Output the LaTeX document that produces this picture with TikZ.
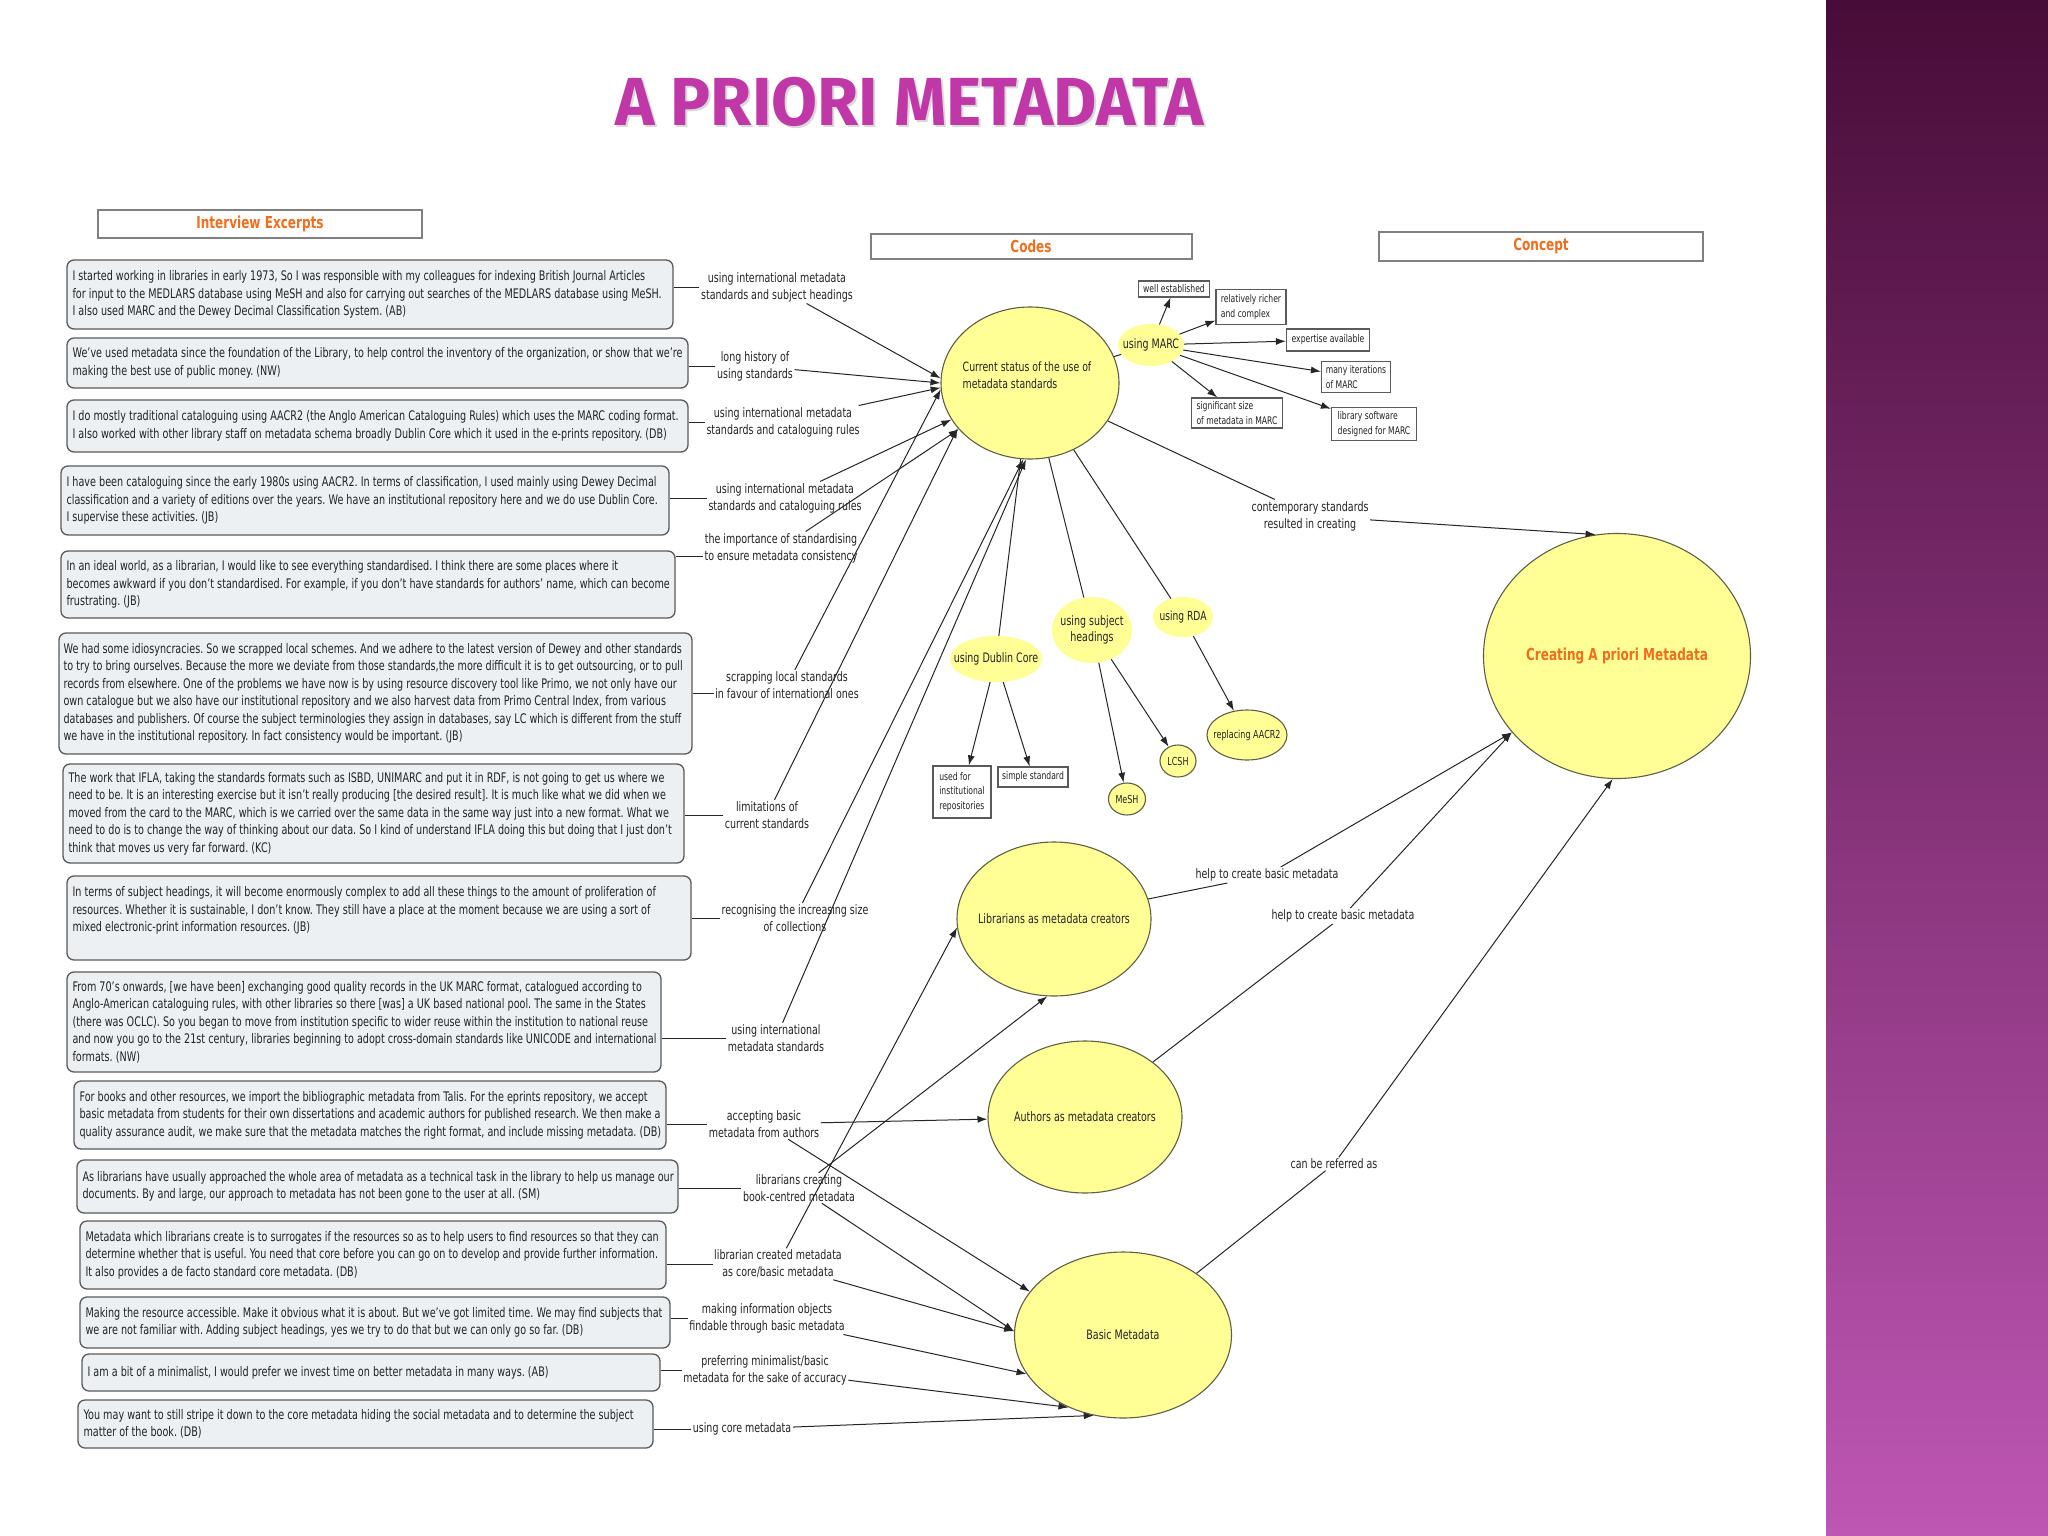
\documentclass[tikz,border=0pt]{standalone}
\usepackage{fontspec}
\setmainfont{DejaVu Sans}[FakeStretch=0.73]
\newfontfamily\titlefont{Fira Sans}[FakeStretch=0.98]
\usetikzlibrary{shapes.geometric,arrows.meta}
\definecolor{boxfill}{RGB}{236,240,243}
\definecolor{boxline}{RGB}{90,90,90}
\definecolor{ylw}{RGB}{255,255,150}
\definecolor{ylwline}{RGB}{95,95,70}
\definecolor{orng}{RGB}{240,110,30}
\definecolor{ttl}{RGB}{192,56,168}
\definecolor{plumtop}{RGB}{72,12,56}
\definecolor{plummid}{RGB}{140,48,128}
\definecolor{plumbot}{RGB}{190,86,180}
\definecolor{txt}{RGB}{35,35,35}
\tikzset{
  ebox/.style={draw=boxline, fill=boxfill, rounded corners=7pt, line width=1.3pt, inner sep=0pt},
  etext/.style={anchor=west, align=left, inner sep=0pt, text=txt, font=\fontsize{13.2}{17.5}\selectfont},
  lbl/.style={align=center, inner sep=1.5pt, text=txt, font=\fontsize{13}{17}\selectfont},
  hdr/.style={draw=gray, line width=2pt, fill=white, text=orng, font=\bfseries\fontsize{16.5}{18}\selectfont, inner sep=0pt},
  bigc/.style={ellipse, draw=ylwline, fill=ylw, line width=1.1pt, inner sep=0pt},
  smc/.style={ellipse, fill=ylw, inner sep=0pt},
  smcb/.style={ellipse, draw=ylwline, fill=ylw, line width=1.1pt, inner sep=0pt},
  ctext/.style={align=center, inner sep=0pt, text=txt, font=\fontsize{13}{16}\selectfont},
  mbox/.style={draw=boxline, fill=white, line width=1.2pt, align=left, inner sep=0pt, text=txt, font=\fontsize{10.5}{14.5}\selectfont},
  conn/.style={line width=1pt, draw=black!85},
  arr/.style={conn, -{Latex[length=10pt,width=7pt]}},
}
\begin{document}
\frenchspacing
\begin{tikzpicture}[x=1pt,y=-1pt]
\useasboundingbox (0,0) rectangle (2048,1536);
\fill[white] (0,0) rectangle (2048,1536);
\shade[top color=plumtop, middle color=plummid, bottom color=plumbot] (1826,0) rectangle (2048,1536);

% title
\node[text=black!15, font=\titlefont\bfseries\fontsize{68}{70}\selectfont] (titles) at (912,104) {A PRIORI METADATA};
\node[text=ttl, font=\titlefont\bfseries\fontsize{68}{70}\selectfont] (title) at (910,102) {A PRIORI METADATA};

% headers
\node[hdr, minimum width=324, minimum height=28] (hint) at (260,224) {Interview Excerpts};
\node[hdr, minimum width=321, minimum height=25] (hcodes) at (1031,246) {Codes};
\node[hdr, minimum width=324, minimum height=29] (hcon) at (1541,246) {Concept};

% interview excerpt boxes
\node[ebox, minimum width=606, minimum height=69] (b1) at (370,294.5) {};
\node[etext] (t1) at ([xshift=6pt]b1.west) {I started working in libraries in early 1973, So I was responsible with my colleagues for indexing British Journal Articles\\for input to the MEDLARS database using MeSH and also for carrying out searches of the MEDLARS database using MeSH.\\I also used MARC and the Dewey Decimal Classification System. (AB)};

\node[ebox, minimum width=621, minimum height=50] (b2) at (377.5,363) {};
\node[etext] (t2) at ([xshift=6pt]b2.west) {We've used metadata since the foundation of the Library, to help control the inventory of the organization, or show that we're\\making the best use of public money. (NW)};

\node[ebox, minimum width=621, minimum height=52] (b3) at (377.5,426) {};
\node[etext] (t3) at ([xshift=6pt]b3.west) {I do mostly traditional cataloguing using AACR2 (the Anglo American Cataloguing Rules) which uses the MARC coding format.\\I also worked with other library staff on metadata schema broadly Dublin Core which it used in the e-prints repository. (DB)};

\node[ebox, minimum width=608, minimum height=69] (b4) at (365,500.5) {};
\node[etext] (t4) at ([xshift=6pt]b4.west) {I have been cataloguing since the early 1980s using AACR2. In terms of classification, I used mainly using Dewey Decimal\\classification and a variety of editions over the years. We have an institutional repository here and we do use Dublin Core.\\I supervise these activities. (JB)};

\node[ebox, minimum width=614, minimum height=67] (b5) at (368,584.5) {};
\node[etext] (t5) at ([xshift=6pt]b5.west) {In an ideal world, as a librarian, I would like to see everything standardised. I think there are some places where it\\becomes awkward if you don't standardised. For example, if you don't have standards for authors' name, which can become\\frustrating. (JB)};

\node[ebox, minimum width=633, minimum height=121] (b6) at (375.5,693.5) {};
\node[etext] (t6) at ([xshift=5pt]b6.west) {We had some idiosyncracies. So we scrapped local schemes. And we adhere to the latest version of Dewey and other standards\\to try to bring ourselves. Because the more we deviate from those standards,the more difficult it is to get outsourcing, or to pull\\records from elsewhere. One of the problems we have now is by using resource discovery tool like Primo, we not only have our\\own catalogue but we also have our institutional repository and we also harvest data from Primo Central Index, from various\\databases and publishers. Of course the subject terminologies they assign in databases, say LC which is different from the stuff\\we have in the institutional repository. In fact consistency would be important. (JB)};

\node[ebox, minimum width=621, minimum height=99] (b7) at (373.5,813.5) {};
\node[etext] (t7) at ([xshift=6pt]b7.west) {The work that IFLA, taking the standards formats such as ISBD, UNIMARC and put it in RDF, is not going to get us where we\\need to be. It is an interesting exercise but it isn't really producing [the desired result]. It is much like what we did when we\\moved from the card to the MARC, which is we carried over the same data in the same way just into a new format. What we\\need to do is to change the way of thinking about our data. So I kind of understand IFLA doing this but doing that I just don't\\think that moves us very far forward. (KC)};

\node[ebox, minimum width=624, minimum height=84] (b8) at (379,918) {};
\node[etext] (t8) at ([xshift=6pt]b8.west) {In terms of subject headings, it will become enormously complex to add all these things to the amount of proliferation of\\resources. Whether it is sustainable, I don't know. They still have a place at the moment because we are using a sort of\\mixed electronic-print information resources. (JB)\\\mbox{}};

\node[ebox, minimum width=594, minimum height=100] (b9) at (364,1022) {};
\node[etext] (t9) at ([xshift=6pt]b9.west) {From 70's onwards, [we have been] exchanging good quality records in the UK MARC format, catalogued according to\\Anglo-American cataloguing rules, with other libraries so there [was] a UK based national pool. The same in the States\\(there was OCLC). So you began to move from institution specific to wider reuse within the institution to national reuse\\and now you go to the 21st century, libraries beginning to adopt cross-domain standards like UNICODE and international\\formats. (NW)};

\node[ebox, minimum width=592, minimum height=68] (b10) at (370,1115) {};
\node[etext] (t10) at ([xshift=6pt]b10.west) {For books and other resources, we import the bibliographic metadata from Talis. For the eprints repository, we accept\\basic metadata from students for their own dissertations and academic authors for published research. We then make a\\quality assurance audit, we make sure that the metadata matches the right format, and include missing metadata. (DB)};

\node[ebox, minimum width=601, minimum height=53] (b11) at (377.5,1186.5) {};
\node[etext] (t11) at ([xshift=6pt]b11.west) {As librarians have usually approached the whole area of metadata as a technical task in the library to help us manage our\\documents. By and large, our approach to metadata has not been gone to the user at all. (SM)};

\node[ebox, minimum width=586, minimum height=68] (b12) at (373,1255) {};
\node[etext] (t12) at ([xshift=6pt]b12.west) {Metadata which librarians create is to surrogates if the resources so as to help users to find resources so that they can\\determine whether that is useful. You need that core before you can go on to develop and provide further information.\\It also provides a de facto standard core metadata. (DB)};

\node[ebox, minimum width=590, minimum height=51] (b13) at (375,1322.5) {};
\node[etext] (t13) at ([xshift=6pt]b13.west) {Making the resource accessible. Make it obvious what it is about. But we've got limited time. We may find subjects that\\we are not familiar with. Adding subject headings, yes we try to do that but we can only go so far. (DB)};

\node[ebox, minimum width=578, minimum height=37] (b14) at (371,1372.5) {};
\node[etext] (t14) at ([xshift=6pt]b14.west) {I am a bit of a minimalist, I would prefer we invest time on better metadata in many ways. (AB)};

\node[ebox, minimum width=575, minimum height=48] (b15) at (365.5,1424) {};
\node[etext] (t15) at ([xshift=6pt]b15.west) {You may want to still stripe it down to the core metadata hiding the social metadata and to determine the subject\\matter of the book. (DB)};

% code labels
\node[lbl] (L1) at (777,287) {using international metadata\\standards and subject headings};
\node[lbl] (L2) at (755,366) {long history of\\using standards};
\node[lbl] (L3) at (783,422) {using international metadata\\standards and cataloguing rules};
\node[lbl] (L4) at (785,498) {using international metadata\\standards and cataloguing rules};
\node[lbl] (L5) at (781,548) {the importance of standardising\\to ensure metadata consistency};
\node[lbl] (L6) at (787,685) {scrapping local standards\\in favour of international ones};
\node[lbl] (L7) at (767,815) {limitations of\\current standards};
\node[lbl] (L8) at (795,918) {recognising the increasing size\\of collections};
\node[lbl] (L9) at (776,1038) {using international\\metadata standards};
\node[lbl] (L10) at (764,1124) {accepting basic\\metadata from authors};
\node[lbl] (L11) at (799,1188) {librarians creating\\book-centred metadata};
\node[lbl] (L12) at (778,1264) {librarian created metadata\\as core/basic metadata};
\node[lbl] (L13) at (767,1318) {making information objects\\findable through basic metadata};
\node[lbl] (L14) at (765,1370) {preferring minimalist/basic\\metadata for the sake of accuracy};
\node[lbl] (L15) at (742,1429) {using core metadata};

% code ellipses
\node[bigc, minimum width=178, minimum height=152] (cur) at (1030,383) {};
\node[ctext, align=left, font=\fontsize{12.8}{17}\selectfont] (curt) at (1027,375) {Current status of the use of\\metadata standards};
\node[smc, minimum width=66, minimum height=42] (marc) at (1151,345) {};
\node[ctext] (marct) at (marc) {using MARC};
\node[smc, minimum width=92, minimum height=46] (dub) at (996,659) {};
\node[ctext] (dubt) at (dub) {using Dublin Core};
\node[smc, minimum width=80, minimum height=66] (sub) at (1092,630) {};
\node[ctext] (subt) at (sub) {using subject\\headings};
\node[smc, minimum width=60, minimum height=40] (rda) at (1183,617) {};
\node[ctext, font=\fontsize{12.5}{15}\selectfont] (rdat) at (rda) {using RDA};
\node[smcb, minimum width=80, minimum height=50] (aacr) at (1247,735) {};
\node[ctext, font=\fontsize{11}{13}\selectfont] (aacrt) at (aacr) {replacing AACR2};
\node[smcb, minimum width=36, minimum height=32] (lcsh) at (1178,761) {};
\node[ctext, font=\fontsize{11}{13}\selectfont] (lcsht) at (lcsh) {LCSH};
\node[smcb, minimum width=37, minimum height=32] (mesh) at (1127,799) {};
\node[ctext, font=\fontsize{11}{13}\selectfont] (mesht) at (mesh) {MeSH};

% small boxes
\node[mbox, minimum width=71, minimum height=16] (we) at (1174,289) {well established};
\node[mbox, minimum width=70, minimum height=35] (rc) at (1251,307) {relatively richer\\and complex};
\node[mbox, minimum width=83, minimum height=22] (ea) at (1328,340) {expertise available};
\node[mbox, minimum width=69, minimum height=31] (mi) at (1356,377) {many iterations\\of MARC};
\node[mbox, minimum width=91, minimum height=30] (ss) at (1237,413) {significant size\\of metadata in MARC};
\node[mbox, minimum width=85, minimum height=33] (ls) at (1374,424) {library software\\designed for MARC};
\node[mbox, minimum width=58, minimum height=52] (uf) at (962,792) {used for\\institutional\\repositories};
\node[mbox, minimum width=70, minimum height=20] (sst) at (1033,777) {simple standard};

% concept-level circles
\node[bigc, minimum width=267, minimum height=245] (crt) at (1617,656) {};
\node[text=orng, inner sep=0pt, font=\bfseries\fontsize{16.5}{18}\selectfont] (crtt) at (crt) {Creating A priori Metadata};
\node[bigc, minimum width=194, minimum height=154] (lib) at (1054,919) {};
\node[ctext] (libt) at (lib) {Librarians as metadata creators};
\node[bigc, minimum width=194, minimum height=152] (aut) at (1085,1117) {};
\node[ctext] (autt) at (aut) {Authors as metadata creators};
\node[bigc, minimum width=217, minimum height=166] (bas) at (1123,1335) {};
\node[ctext] (bast) at (bas) {Basic Metadata};

\node[lbl] (CS) at (1310,516) {contemporary standards\\resulted in creating};
\node[lbl] (H1) at (1267,875) {help to create basic metadata};
\node[lbl] (H2) at (1343,916) {help to create basic metadata};
\node[lbl] (H3) at (1334,1164) {can be referred as};

% box -> label lines
\foreach \i in {1,2,3,4,7,8,9,10,11,12,13,14,15}
  \draw[conn] (L\i.west) -- (L\i.west -| b\i.east);
\draw[conn] ([yshift=-8.5pt]L5.west) -- ([yshift=-8.5pt]L5.west -| b5.east);
\draw[conn] ([yshift=-8.5pt]L6.west) -- ([yshift=-8.5pt]L6.west -| b6.east);

% label -> current status
\draw[arr] (L1) -- (cur.177);
\draw[arr] (L2) -- (cur.180);
\draw[arr] (L3) -- (cur.183);
\draw[arr] (L4) -- (cur.205);
\draw[arr] (L5) -- (cur.213);
\draw[arr] (L6) -- (cur.184);
\draw[arr] (L7) -- (cur.212);
\draw[arr] (L8) -- (cur.265);
\draw[arr] (L9) -- (cur.267);

% MARC and sub-codes
\draw[conn] (cur) -- (marc);
\foreach \t in {we,rc,ea,mi,ss,ls}
  \draw[arr] (marc) -- (\t);
\draw[conn] (cur) -- (dub);
\draw[conn] (cur) -- (sub);
\draw[conn] (cur) -- (rda);
\draw[arr] (dub) -- (uf);
\draw[arr] (dub) -- (sst);
\draw[arr] (sub) -- (mesh);
\draw[arr] (sub) -- (lcsh);
\draw[arr] (rda) -- (aacr);

% to concept
\draw[conn] (cur.334) -- (CS);
\draw[arr] (CS) -- (crt.100);
\draw[conn] (lib.12) -- (H1);
\draw[arr] (H1) -- (crt.216);
\draw[conn] (aut.39) -- (H2);
\draw[arr] (H2) -- (crt.216);
\draw[conn] (bas.40) -- (H3);
\draw[arr] (H3) -- (crt.268);

% lower labels
\draw[arr] (L10) -- (aut);
\draw[arr] (L10) -- (bas.155);
\draw[arr] (L11) -- (lib.265);
\draw[arr] (L11) -- (bas.178);
\draw[arr] (L12) -- (lib.185);
\draw[arr] (L12) -- (bas.178);
\draw[arr] (L13) -- (bas.202);
\draw[arr] (L14) -- (bas.233);
\draw[arr] (L15) -- (bas.250);
\end{tikzpicture}
\end{document}
